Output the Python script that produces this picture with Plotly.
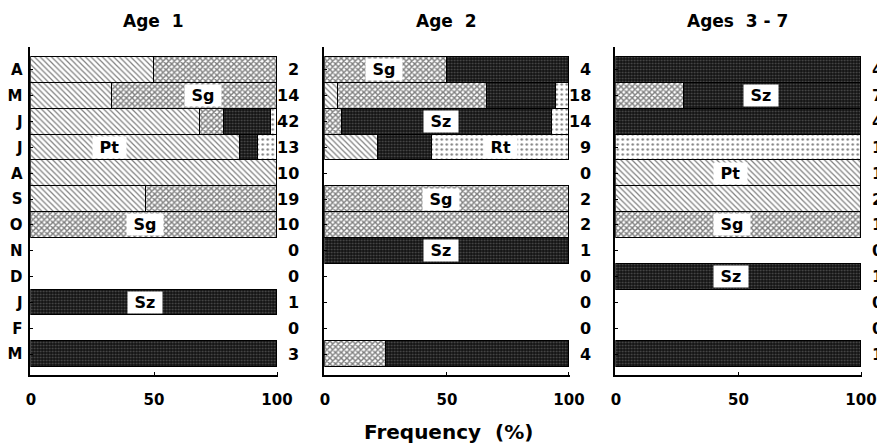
import plotly.graph_objects as go

# ---------------- data ----------------
months = ["A", "M", "J", "J", "A", "S", "O", "N", "D", "J", "F", "M"]
rows = list(range(len(months)))
panel_titles = ["Age\u00a0\u00a01", "Age\u00a0\u00a02", "Ages\u00a0\u00a03\u00a0-\u00a07"]
x_tickvals = [0, 50, 100]
x_ticktext = ["0", "50", "100"]

# Age 1 (percent frequency per month)
age1_pt = [50, 33, 69, 85, 100, 47, None, None, None, None, None, None]
age1_sg = [50, 67, 9.5, None, None, 53, 100, None, None, None, None, None]
age1_sz = [None, None, 19, 7.5, None, None, None, None, None, 100, None, 100]
age1_rt = [None, None, 2.5, 7.5, None, None, None, None, None, None, None, None]
age1_n = [2, 14, 42, 13, 10, 19, 10, 0, 0, 1, 0, 3]

# Age 2
age2_pt = [None, 5.6, None, 22, None, None, None, None, None, None, None, None]
age2_sg = [50, 61, 7, None, None, 100, 100, None, None, None, None, 25]
age2_sz = [50, 28, 86, 22, None, None, None, 100, None, None, None, 75]
age2_rt = [None, 5.4, 7, 56, None, None, None, None, None, None, None, None]
age2_n = [4, 18, 14, 9, 0, 2, 2, 1, 0, 0, 0, 4]

# Ages 3 - 7
age3_pt = [None, None, None, None, 100, 100, None, None, None, None, None, None]
age3_sg = [None, 28, None, None, None, None, 100, None, None, None, None, None]
age3_sz = [100, 72, 100, None, None, None, None, None, 100, None, None, 100]
age3_rt = [None, None, None, 100, None, None, None, None, None, None, None, None]
age3_n = [4, 7, 4, 1, 1, 2, 1, 0, 1, 0, 0, 1]

# in-bar species labels: panel index, row index, x position (%), text
label_panel = [0, 0, 0, 0, 1, 1, 1, 1, 1, 2, 2, 2, 2]
label_row = [1, 3, 6, 9, 0, 2, 3, 5, 7, 1, 4, 6, 8]
label_x = [70, 32, 46.5, 46.5, 24, 47.5, 72, 47.5, 47.5, 59, 46.8, 47.2, 47]
label_text = ["Sg", "Pt", "Sg", "Sz", "Sg", "Sz", "Rt", "Sg", "Sz", "Sz", "Pt", "Sg", "Sz"]

# ---------------- styling ----------------
W, H = 877, 446
FONT = "DejaVu Sans"
species = ["Pt", "Sg", "Sz", "Rt"]
patterns = {
    "Pt": dict(shape="\\", fgcolor="black", bgcolor="white", size=4, solidity=0.3),
    "Sg": dict(shape="x", fgcolor="black", bgcolor="white", size=4, solidity=0.6),
    "Sz": dict(shape=".", fgcolor="#8a8a8a", bgcolor="#121212", size=3, solidity=0.3),
    "Rt": dict(shape=".", fgcolor="black", bgcolor="white", size=5, solidity=0.18),
}
panels = [
    dict(data=[age1_pt, age1_sg, age1_sz, age1_rt], n=age1_n, px0=31, px100=277),
    dict(data=[age2_pt, age2_sg, age2_sz, age2_rt], n=age2_n, px0=325, px100=569),
    dict(data=[age3_pt, age3_sg, age3_sz, age3_rt], n=age3_n, px0=616, px100=861),
]
X_RANGE = [-0.3, 100.5]
Y_TOP_PX, Y_BOT_PX = 47, 375
BAR_TOP_PX, BAR_BOT_PX = 57, 367
pitch = (BAR_BOT_PX - BAR_TOP_PX) / 12.0
y_top_val = (Y_TOP_PX - BAR_TOP_PX) / pitch - 0.5
y_bot_val = (Y_BOT_PX - BAR_TOP_PX) / pitch - 0.5
y_domain = [1 - Y_BOT_PX / H, 1 - Y_TOP_PX / H]

fig = go.Figure()
annotations = []
layout = {}

for i, p in enumerate(panels):
    sfx = "" if i == 0 else str(i + 1)
    xa, ya = "x" + sfx, "y" + sfx
    scale = (p["px100"] - p["px0"]) / 100.0
    d0 = (p["px0"] + X_RANGE[0] * scale) / W
    d1 = (p["px100"] + (X_RANGE[1] - 100) * scale) / W
    for sp, vals in zip(species, p["data"]):
        fig.add_trace(go.Bar(
            x=vals, y=rows, orientation="h", width=1.0,
            xaxis=xa, yaxis=ya, name=sp, showlegend=False,
            marker=dict(pattern=patterns[sp], line=dict(color="black", width=1)),
            hoverinfo="x+y",
        ))
    layout["xaxis" + sfx] = dict(
        domain=[d0, d1], range=X_RANGE, anchor=ya, automargin=False,
        tickvals=x_tickvals, ticktext=x_ticktext, ticks="inside", ticklen=3,
        tickcolor="black", showline=True, linecolor="black", linewidth=1.5,
        showgrid=False, zeroline=False, ticklabelstandoff=10,
        tickfont=dict(family=FONT, size=15, color="black", weight="bold"),
    )
    layout["yaxis" + sfx] = dict(
        domain=y_domain, range=[y_bot_val, y_top_val], anchor=xa, automargin=False,
        tickvals=rows, ticktext=months, showticklabels=(i == 0),
        ticks="inside", ticklen=3, tickcolor="black", ticklabelstandoff=3,
        showline=True, linecolor="black", linewidth=1.5,
        showgrid=False, zeroline=False,
        tickfont=dict(family=FONT, size=15, color="black", weight="bold"),
    )
    # sample sizes at the right of each panel (paper x, data y)
    n_px = p["px100"] + 24
    for r, nv in zip(rows, p["n"]):
        annotations.append(dict(
            x=n_px / W, y=r, xref="paper", yref=ya, text=str(nv), showarrow=False,
            xanchor="right", yanchor="middle",
            font=dict(family=FONT, size=16, color="black", weight="bold"),
        ))
    # panel title
    annotations.append(dict(
        x=[153, 447, 737.5][i] / W, y=1 - 21 / H, xref="paper", yref="paper",
        text=panel_titles[i], showarrow=False, xanchor="center", yanchor="middle",
        font=dict(family=FONT, size=17, color="black", weight="bold"),
    ))

for pi, r, xv, t in zip(label_panel, label_row, label_x, label_text):
    sfx = "" if pi == 0 else str(pi + 1)
    annotations.append(dict(
        x=xv, y=r, xref="x" + sfx, yref="y" + sfx,
        text="\u00a0" + t + "\u00a0", showarrow=False,
        xanchor="center", yanchor="middle", bgcolor="white", borderpad=1,
        font=dict(family=FONT, size=16, color="black", weight="bold"),
    ))

annotations.append(dict(
    x=448 / W, y=1 - 432 / H, xref="paper", yref="paper",
    text="Frequency\u00a0\u00a0(%)", showarrow=False, xanchor="center", yanchor="middle",
    font=dict(family=FONT, size=20, color="black", weight="bold"),
))

fig.update_layout(
    width=W, height=H, autosize=False,
    margin=dict(l=0, r=0, t=0, b=0, autoexpand=False),
    paper_bgcolor="white", plot_bgcolor="white",
    barmode="stack", bargap=0, showlegend=False,
    annotations=annotations,
    **layout,
)

fig.write_html(
    "out.html",
    config={"displayModeBar": False},
    post_script="document.body.style.margin='0';document.body.style.overflow='hidden';",
)
